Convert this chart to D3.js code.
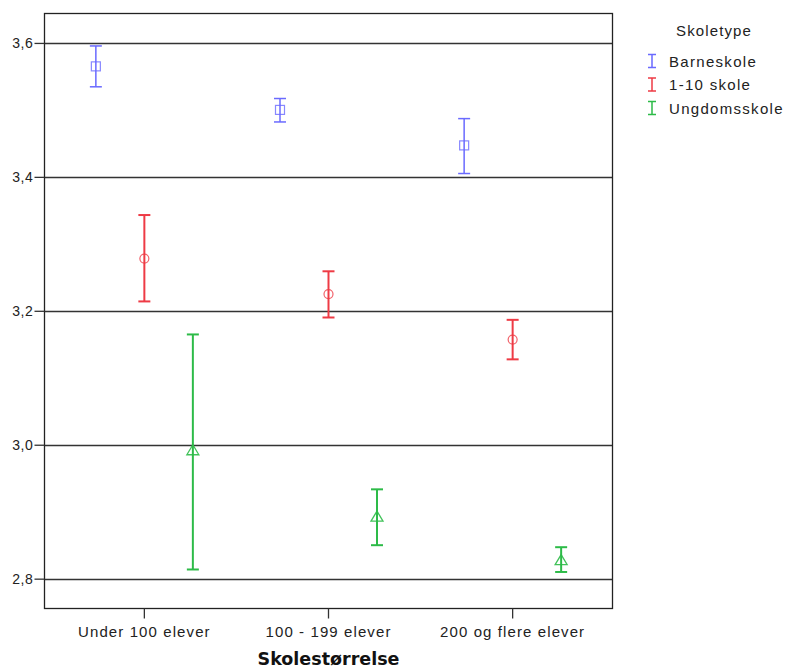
<!DOCTYPE html>
<html>
<head>
<meta charset="utf-8">
<script src="https://cdn.jsdelivr.net/npm/d3@7"></script>
<style>
  body { margin: 0; background: #fff; }
  svg { display: block; font-family: "Liberation Sans", Arial, sans-serif; }
</style>
</head>
<body>
<div id="chart"></div>
<script>
const categories = ['Under 100 elever', '100 - 199 elever', '200 og flere elever'];
const seriesNames = ['Barneskole', '1-10 skole', 'Ungdomsskole'];
const seriesColors = ['#6a6aff', '#ee3b45', '#2dbb48'];
const seriesShapes = ['square', 'circle', 'triangle'];

// mean, lower and upper for each series, in category order
const barneMean = [3.565, 3.500, 3.447];
const barneLow = [3.5345, 3.482, 3.405];
const barneHigh = [3.5955, 3.517, 3.487];

const skole110Mean = [3.278, 3.225, 3.157];
const skole110Low = [3.214, 3.190, 3.1275];
const skole110High = [3.343, 3.259, 3.1865];

const ungdomMean = [2.991, 2.892, 2.827];
const ungdomLow = [2.8137, 2.850, 2.810];
const ungdomHigh = [3.1647, 2.9334, 2.847];

const yTicks = [2.8, 3.0, 3.2, 3.4, 3.6];

const series = [
    { mean: barneMean, low: barneLow, high: barneHigh },
    { mean: skole110Mean, low: skole110Low, high: skole110High },
    { mean: ungdomMean, low: ungdomLow, high: ungdomHigh },
];

const width = 789, height = 668;
const plot = { left: 44, top: 13, right: 612, bottom: 608 };
const font = '"Liberation Sans", Arial, sans-serif';

const svg = d3.select('#chart').append('svg')
    .attr('width', width)
    .attr('height', height);

const y = d3.scaleLinear()
    .domain([2.7562, 3.6447])
    .range([plot.bottom, plot.top]);

const x = d3.scaleBand()
    .domain(categories)
    .range([plot.left, plot.right + 1])
    .paddingOuter(0.045)
    .paddingInner(0.0);

const xs = d3.scalePoint()
    .domain(seriesNames)
    .range([-48.5, 48.5]);

// gridlines
svg.append('g')
    .selectAll('line')
    .data(yTicks)
    .enter()
    .append('line')
    .attr('x1', plot.left)
    .attr('x2', plot.right)
    .attr('y1', (d) => Math.round(y(d)) + 0.5)
    .attr('y2', (d) => Math.round(y(d)) + 0.5)
    .attr('stroke', '#333')
    .attr('stroke-width', 1.6);

// frame
svg.append('rect')
    .attr('x', plot.left + 0.5)
    .attr('y', plot.top + 0.5)
    .attr('width', plot.right - plot.left)
    .attr('height', plot.bottom - plot.top)
    .attr('fill', 'none')
    .attr('stroke', '#222')
    .attr('stroke-width', 1.3);

// y axis
const yAxis = svg.append('g')
    .attr('transform', `translate(${plot.left + 0.5},0)`)
    .call(d3.axisLeft(y).tickValues(yTicks).tickSize(10).tickFormat((d) => d3.format('.1f')(d).replace('.', ',')));
yAxis.select('.domain').remove();
yAxis.selectAll('.tick line').attr('stroke', '#333').attr('stroke-width', 1.3);
yAxis.selectAll('.tick text')
    .attr('x', -11)
    .attr('font-size', 14)
    .attr('letter-spacing', 0.6)
    .attr('font-family', font)
    .attr('fill', '#222');

// x axis
const xAxis = svg.append('g')
    .attr('transform', `translate(0,${plot.bottom + 0.5})`)
    .call(d3.axisBottom(x).tickSize(10).tickPadding(8));
xAxis.select('.domain').remove();
xAxis.selectAll('.tick line').attr('stroke', '#333').attr('stroke-width', 1.3);
xAxis.selectAll('.tick text')
    .attr('font-size', 15)
    .attr('letter-spacing', 1.1)
    .attr('font-family', font)
    .attr('fill', '#222');

svg.append('text')
    .attr('x', x(categories[1]) + x.bandwidth() / 2)
    .attr('y', 665)
    .attr('text-anchor', 'middle')
    .attr('font-size', 17.5)
    .attr('font-weight', 'bold')
    .attr('font-family', '"DejaVu Sans", sans-serif')
    .attr('fill', '#111')
    .text('Skolestørrelse');

// error bars
const capW = 6;
series.forEach((s, si) => {
    const color = seriesColors[si];
    const sw = si === 0 ? 1.5 : 2;
    const g = svg.append('g');
    categories.forEach((c, ci) => {
        const cx = x(c) + x.bandwidth() / 2 + xs(seriesNames[si]);
        const yh = y(s.high[ci]), yl = y(s.low[ci]), ym = y(s.mean[ci]);
        g.append('line')
            .attr('x1', cx).attr('x2', cx)
            .attr('y1', yh).attr('y2', yl)
            .attr('stroke', color).attr('stroke-width', sw);
        [yh, yl].forEach((yy) => {
            g.append('line')
                .attr('x1', cx - capW).attr('x2', cx + capW)
                .attr('y1', yy).attr('y2', yy)
                .attr('stroke', color).attr('stroke-width', sw);
        });
        const shape = seriesShapes[si];
        if (shape === 'square') {
            g.append('rect')
                .attr('x', cx - 4.5).attr('y', ym - 4.5)
                .attr('width', 9).attr('height', 9)
                .attr('fill', 'none')
                .attr('stroke', color).attr('stroke-width', 1.2).attr('stroke-opacity', 0.8);
        } else if (shape === 'circle') {
            g.append('circle')
                .attr('cx', cx).attr('cy', ym).attr('r', 4.5)
                .attr('fill', 'none')
                .attr('stroke', color).attr('stroke-width', 1.2).attr('stroke-opacity', 0.8);
        } else {
            g.append('path')
                .attr('d', `M${cx},${ym - 6} L${cx + 6},${ym + 4} L${cx - 6},${ym + 4} Z`)
                .attr('fill', 'none')
                .attr('stroke', color).attr('stroke-width', 1.3).attr('stroke-opacity', 0.9);
        }
    });
});

// legend
svg.append('text')
    .attr('x', 714)
    .attr('y', 36)
    .attr('text-anchor', 'middle')
    .attr('font-size', 15)
    .attr('letter-spacing', 1.1)
    .attr('fill', '#222')
    .text('Skoletype');

const legend = svg.append('g')
    .selectAll('g')
    .data(seriesNames)
    .enter()
    .append('g')
    .attr('transform', (d, i) => `translate(652,${61 + i * 23.5})`);

legend.append('path')
    .attr('d', 'M-4,-6.5 H4 M0,-6.5 V6.5 M-4,6.5 H4')
    .attr('stroke', (d, i) => seriesColors[i])
    .attr('stroke-width', 1.5)
    .attr('fill', 'none');

legend.append('text')
    .attr('x', 17)
    .attr('y', 5.5)
    .attr('font-size', 15)
    .attr('letter-spacing', 1.3)
    .attr('fill', '#222')
    .text((d) => d);
</script>
</body>
</html>
